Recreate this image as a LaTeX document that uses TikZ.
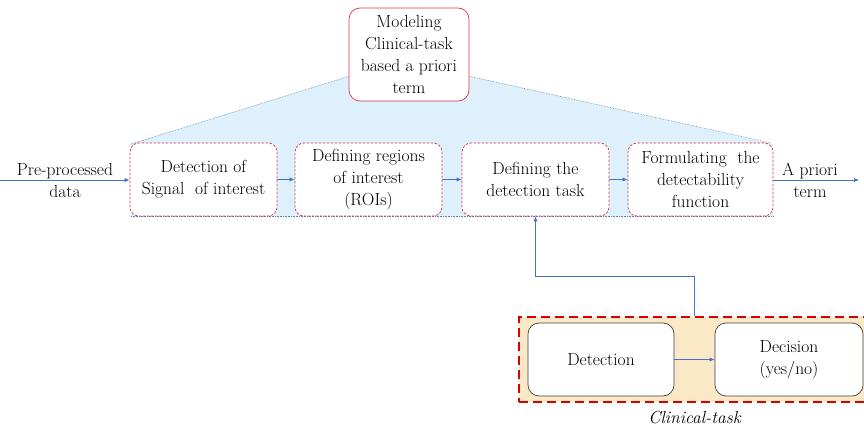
\documentclass[tikz,border=0pt]{standalone}
\usepackage{fontspec}
\usetikzlibrary{arrows.meta,calc}
\definecolor{arrblue}{HTML}{4472C4}
\definecolor{boxred}{HTML}{DC3545}
\definecolor{skyfill}{HTML}{DDF0FB}
\definecolor{beige}{HTML}{FBE8C6}
\definecolor{dotline}{HTML}{5C7FA6}
\newcommand{\txtfont}{\rmfamily\fontsize{17.5}{22}\selectfont}
\tikzset{
  arr/.style={draw=arrblue, line width=0.6pt, -{Latex[length=5pt,width=4pt]}},
  stepbox/.style={draw=boxred, dash pattern=on 2.5pt off 1.5pt, line width=0.7pt, rounded corners=9pt, fill=white,
     minimum width=147pt, minimum height=73pt, align=center, font=\txtfont, inner sep=1pt},
  topbox/.style={draw=boxred, line width=0.7pt, rounded corners=11pt, fill=white,
     minimum width=120pt, minimum height=93pt, align=center, font=\txtfont},
  ctbox/.style={draw=black!75, line width=0.7pt, rounded corners=11pt, fill=white,
     minimum width=146pt, minimum height=73pt, align=center, font=\txtfont},
  lbl/.style={align=center, font=\txtfont, inner sep=0pt},
}
\begin{document}
\begin{tikzpicture}[x=1pt,y=-1pt]
\useasboundingbox (0,0) rectangle (864,430);
% trapezoid background
\fill[skyfill] (350,76) -- (131,144) -- (131,216) -- (773,216) -- (773,144) -- (468,76) -- cycle;
\draw[dotline, densely dotted, line width=0.6pt] (350,76) -- (131,144);
\draw[dotline, densely dotted, line width=0.6pt] (468,76) -- (771,143);
\draw[dotline, densely dotted, line width=0.6pt] (131,216) -- (773,216);
% top box
\node[topbox] (top) at (409,54.5) {Modeling\\Clinical-task\\based a priori\\term};
% row boxes
\node[stepbox] (b1) at (203.5,179.5) {Detection of\\Signal\ \ of interest};
\node[stepbox] (b2) at (368.5,179.5) {Defining regions\\of interest\\(ROIs)};
\node[stepbox] (b3) at (535.5,179.5) {Defining the\\detection task};
\node[stepbox, minimum width=145pt] (b4) at (700.5,179.5) {Formulating\ \ the\\detectability\\function};
% input/output
\coordinate (inL) at (0,180);
\coordinate (outR) at (859,180);
\node[lbl] (inlbl) at (65,180) {Pre-processed\\data};
\node[lbl] (outlbl) at (810,180) {A priori\\term};
\draw[arr] (inL) -- (b1.west |- inL);
\draw[arr] (b1) -- (b2);
\draw[arr] (b2) -- (b3);
\draw[arr] (b3) -- (b4);
\draw[arr] (b4.east |- outR) -- (outR);
% clinical task
\node[draw=red!85!black, fill=beige, dash pattern=on 9pt off 5pt, line width=1.4pt,
      minimum width=351pt, minimum height=85pt, inner sep=0pt] (clin) at (694.5,359.5) {};
\node[ctbox] (det) at (601,359.5) {Detection};
\node[ctbox, minimum width=148pt] (dec) at (789,359.5) {Decision\\(yes/no)};
\draw[arr] (det) -- (dec);
\node[lbl, font=\txtfont\itshape] (ctl) at (694.5,418) {Clinical-task};
\coordinate (turn) at (694.5,276);
\draw[arr] (clin.north) -- (turn) -| (b3.south);
\end{tikzpicture}
\end{document}
